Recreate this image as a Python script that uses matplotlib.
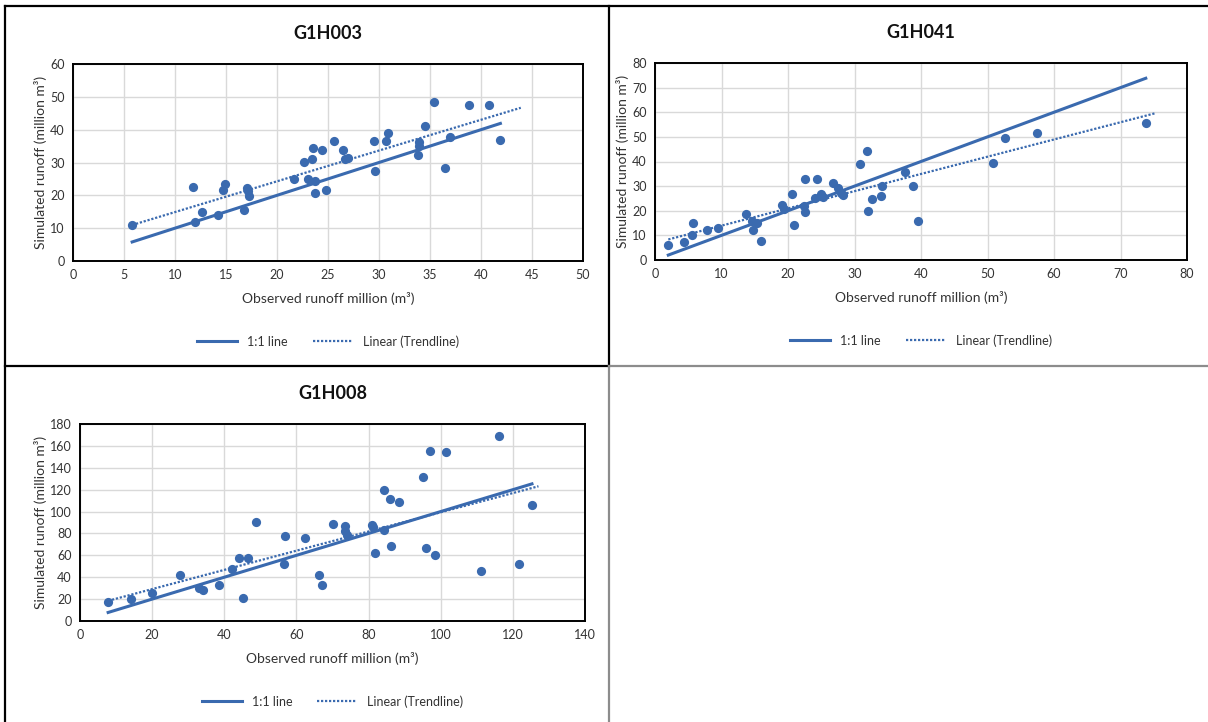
import numpy as np
import matplotlib
matplotlib.use("Agg")
import matplotlib.pyplot as plt
from matplotlib.lines import Line2D

plt.rcParams['font.family'] = ['Lato', 'DejaVu Sans']

# G1H003
obs_003 = [5.8, 11.8, 12.0, 12.6, 14.2, 14.7, 14.9, 16.8, 17.1, 17.2, 17.3, 21.7, 22.6, 23.0,
           23.4, 23.5, 23.7, 23.7, 24.4, 24.8, 25.6, 26.5, 26.7, 27.0, 29.5, 29.6, 30.7, 30.9,
           33.8, 33.9, 33.9, 34.5, 35.4, 36.5, 37.0, 38.8, 40.8, 41.9]
sim_003 = [11.0, 22.5, 11.9, 14.8, 13.9, 21.7, 23.6, 15.5, 22.2, 21.2, 19.9, 25.0, 30.1, 25.0,
           31.0, 34.3, 24.5, 20.7, 33.9, 21.7, 36.5, 33.8, 31.1, 31.5, 36.7, 27.5, 36.5, 38.9,
           32.2, 35.1, 36.3, 41.0, 48.4, 28.4, 37.7, 47.4, 47.6, 37.0]

# G1H041
obs_041 = [2.0, 4.4, 5.5, 5.7, 7.8, 9.5, 13.7, 14.6, 14.7, 15.3, 15.9, 19.1, 19.4, 20.6, 20.9,
           22.6, 22.6, 22.4, 24.3, 24.1, 24.9, 25.2, 26.7, 27.5, 28.0, 28.3, 30.9, 31.9, 32.0,
           32.7, 34.0, 34.1, 37.6, 38.8, 39.5, 50.9, 52.7, 57.4, 73.8]
sim_041 = [6.0, 7.5, 10.0, 14.9, 12.3, 12.9, 18.7, 15.9, 12.2, 15.2, 7.9, 22.5, 20.9, 27.0, 14.2,
           32.8, 19.5, 22.0, 32.8, 25.1, 26.7, 25.7, 31.4, 29.4, 27.4, 26.4, 39.0, 44.2, 19.9,
           24.7, 25.9, 30.1, 35.9, 30.1, 16.0, 39.2, 49.7, 51.5, 55.8]

# G1H008
obs_008 = [7.8, 14.1, 20.0, 27.6, 33.0, 34.2, 38.6, 42.1, 44.1, 45.3, 46.5, 48.8, 56.5, 56.7,
           62.4, 66.2, 67.2, 70.2, 73.5, 73.6, 74.0, 81.0, 81.1, 81.9, 84.2, 84.4, 85.9, 86.2,
           88.4, 95.2, 95.8, 97.0, 98.4, 101.4, 111.3, 116.2, 121.7, 125.3]
sim_008 = [17.7, 20.5, 25.7, 41.6, 29.7, 28.7, 32.7, 47.4, 57.2, 21.1, 57.2, 90.5, 52.3, 78.0,
           75.5, 41.9, 33.3, 89.0, 87.2, 82.6, 78.6, 87.8, 85.6, 61.8, 119.9, 83.2, 111.3, 68.2,
           108.3, 131.5, 67.0, 155.4, 59.9, 154.1, 45.6, 169.4, 52.0, 105.8]

titles = ["G1H003", "G1H041", "G1H008"]
xmax_list = [50, 80, 140]
xstep_list = [5, 10, 20]
ymax_list = [60, 80, 180]
ystep_list = [10, 10, 20]
forecast = [2.0, 1.5, 1.8]

W, H = 1208, 722
blue = "#3A6AAF"
txt = "#333333"

fig = plt.figure(figsize=(W / 100, H / 100), dpi=100)


def rect(l, t, r, b):
    return [l / W, 1 - b / H, (r - l) / W, (b - t) / H]


# pixel boxes of plot areas: left, top, right, bottom
boxes = [(73, 64, 583, 261), (655, 63, 1187, 260), (80, 424, 585, 621)]
datasets = [(obs_003, sim_003), (obs_041, sim_041), (obs_008, sim_008)]

for i, (box, (ox, sy)) in enumerate(zip(boxes, datasets)):
    ax = fig.add_axes(rect(*box))
    ox = np.array(ox)
    sy = np.array(sy)
    ax.scatter(ox, sy, s=44, color=blue, zorder=3, linewidths=0)
    # 1:1 line
    xs = np.array([ox.min(), ox.max()])
    ax.plot(xs, xs, color=blue, lw=2.2, zorder=2, label="1:1 line")
    # linear trendline
    k, c = np.polyfit(ox, sy, 1)
    xt = np.array([ox.min(), ox.max() + forecast[i]])
    ax.plot(xt, k * xt + c, color=blue, lw=1.6, ls=(0, (1, 0.8)), zorder=2,
            label="Linear (Trendline)")

    ax.set_xlim(0, xmax_list[i])
    ax.set_ylim(0, ymax_list[i])
    ax.set_xticks(np.arange(0, xmax_list[i] + 1, xstep_list[i]))
    ax.set_yticks(np.arange(0, ymax_list[i] + 1, ystep_list[i]))
    ax.grid(True, color="#D9D9D9", lw=1.0)
    ax.set_axisbelow(True)
    for sp in ax.spines.values():
        sp.set_linewidth(1.4)
        sp.set_color("black")
    ax.tick_params(length=0, labelsize=9, colors=txt, pad=6)
    ax.set_xlabel("Observed runoff million (m³)", fontsize=10, color=txt, labelpad=8)
    ax.set_ylabel("Simulated runoff (million m³)", fontsize=10, color=txt, labelpad=2)
    ax.set_title(titles[i], fontsize=13, fontweight="bold", color="#111111", pad=18)
    ax.legend(loc="upper center", bbox_to_anchor=(0.5, -0.32), ncol=2, frameon=False,
              fontsize=9, handlelength=3.2, columnspacing=2.0, labelcolor=txt)

# panel borders
def fline(x0, y0, x1, y1, color, lw):
    fig.add_artist(Line2D([x0 / W, x1 / W], [1 - y0 / H, 1 - y1 / H], color=color, lw=lw,
                          transform=fig.transFigure))

fline(5, 6, 1208, 6, "black", 1.6)
fline(5, 6, 5, 722, "black", 1.6)
fline(609, 6, 609, 366, "black", 1.6)
fline(5, 366, 609, 366, "black", 1.6)
fline(609, 366, 1208, 366, "#8c8c8c", 1.6)
fline(609, 366, 609, 722, "#8c8c8c", 1.6)

fig.savefig("out.png", dpi=100)
